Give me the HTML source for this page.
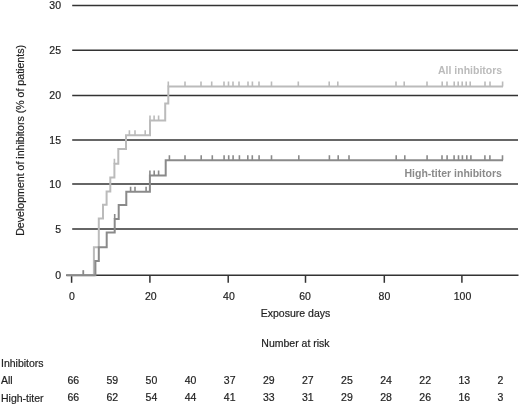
<!DOCTYPE html><html><head><meta charset="utf-8"><style>html,body{margin:0;padding:0;background:#fff;}svg{display:block;filter:grayscale(1)} text{stroke-width:0.2px;paint-order:stroke}</style></head><body>
<svg width="520" height="405" viewBox="0 0 520 405" font-family="Liberation Sans, sans-serif">
<rect width="520" height="405" fill="#fff"/>
<line x1="72.2" y1="5.4" x2="518" y2="5.4" stroke="#333" stroke-width="1.5"/>
<line x1="72.2" y1="50.3" x2="518" y2="50.3" stroke="#333" stroke-width="1.5"/>
<line x1="72.2" y1="95.4" x2="518" y2="95.4" stroke="#333" stroke-width="1.5"/>
<line x1="72.2" y1="139.9" x2="518" y2="139.9" stroke="#333" stroke-width="1.5"/>
<line x1="72.2" y1="184.0" x2="518" y2="184.0" stroke="#333" stroke-width="1.5"/>
<line x1="72.2" y1="229.0" x2="518" y2="229.0" stroke="#333" stroke-width="1.5"/>
<line x1="66" y1="275.3" x2="518.5" y2="275.3" stroke="#333" stroke-width="1.5"/>
<line x1="71.6" y1="275.3" x2="71.6" y2="282.8" stroke="#333" stroke-width="1.5"/>
<line x1="149.9" y1="275.3" x2="149.9" y2="282.8" stroke="#333" stroke-width="1.5"/>
<line x1="228.2" y1="275.3" x2="228.2" y2="282.8" stroke="#333" stroke-width="1.5"/>
<line x1="305.5" y1="275.3" x2="305.5" y2="282.8" stroke="#333" stroke-width="1.5"/>
<line x1="384.3" y1="275.3" x2="384.3" y2="282.8" stroke="#333" stroke-width="1.5"/>
<line x1="461.9" y1="275.3" x2="461.9" y2="282.8" stroke="#333" stroke-width="1.5"/>
<path d="M66.5 275.3 H93.9 V247.2 H98.8 V218.6 H103 V204.75 H106.6 V191.4 H110.3 V177.6 H114.4 V163.8 H118.3 V149 H126 V135.3 H150 V120.4 H165.2 V103.6 H168.3 V86.5 H503" fill="none" stroke="#bbbbbb" stroke-width="2"/>
<path d="M83.3 275.3v-5M114.4 163.8v-5M129.4 135.3v-5M135 135.3v-5M145.2 135.3v-5M150 120.4v-5M154.1 120.4v-5M158.6 120.4v-5M168.3 86.5v-5M185 86.5v-5M201 86.5v-5M211.7 86.5v-5M224 86.5v-5M228.5 86.5v-5M233 86.5v-5M239 86.5v-5M248 86.5v-5M252.4 86.5v-5M259 86.5v-5M271.5 86.5v-5M298.3 86.5v-5M329.2 86.5v-5M337.8 86.5v-5M396 86.5v-5M404.2 86.5v-5M427 86.5v-5M442.2 86.5v-5M447 86.5v-5M454.2 86.5v-5M458.2 86.5v-5M462.2 86.5v-5M466.2 86.5v-5M470.2 86.5v-5M485 86.5v-5M490 86.5v-5M502.6 86.5v-5" fill="none" stroke="#bbbbbb" stroke-width="1.6"/>
<path d="M66.5 275.3 H95.4 V261 H98.8 V247.2 H106.7 V232.4 H114.7 V218.9 H118.7 V205.1 H126.3 V191.8 H149.9 V175.4 H165.7 V160.3 H503" fill="none" stroke="#8a8a8a" stroke-width="2"/>
<path d="M83.3 275.3v-5M114.7 218.9v-5M130.6 191.8v-5M135 191.8v-5M146.1 191.8v-5M149.9 175.4v-5M154.2 175.4v-5M158.6 175.4v-5M169.4 160.3v-5M185 160.3v-5M201.2 160.3v-5M212.3 160.3v-5M224.1 160.3v-5M228.7 160.3v-5M233.1 160.3v-5M239.4 160.3v-5M247.8 160.3v-5M252.3 160.3v-5M259.1 160.3v-5M271.5 160.3v-5M298.8 160.3v-5M329.4 160.3v-5M338.2 160.3v-5M349 160.3v-5M396.2 160.3v-5M404.8 160.3v-5M427.1 160.3v-5M442 160.3v-5M447.1 160.3v-5M454.1 160.3v-5M458.5 160.3v-5M462.4 160.3v-5M466.8 160.3v-5M470.9 160.3v-5M484.9 160.3v-5M489.9 160.3v-5M502.5 160.3v-5" fill="none" stroke="#8a8a8a" stroke-width="1.6"/>
<g font-size="10.5" fill="#1e1e1e" stroke="#1e1e1e" text-anchor="end">
<text transform="translate(61.0 9.10)">30</text>
<text transform="translate(61.0 54.00)">25</text>
<text transform="translate(61.0 99.10)">20</text>
<text transform="translate(61.0 143.60)">15</text>
<text transform="translate(61.0 187.70)">10</text>
<text transform="translate(61.0 232.70)">5</text>
<text transform="translate(61.0 279.00)">0</text>
</g>
<g font-size="10.5" fill="#1e1e1e" stroke="#1e1e1e" text-anchor="middle">
<text transform="translate(72.00 299.5)">0</text>
<text transform="translate(150.75 299.5)">20</text>
<text transform="translate(228.95 299.5)">40</text>
<text transform="translate(305.10 299.5)">60</text>
<text transform="translate(384.40 299.5)">80</text>
<text transform="translate(462.50 299.5)">100</text>
</g>
<text x="23.9" y="140.4" font-size="10.6" fill="#1e1e1e" stroke="#1e1e1e" text-anchor="middle" transform="rotate(-90 23.9 140.4)">Development of inhibitors (% of patients)</text>
<text x="295.5" y="316.6" font-size="10.5" fill="#1e1e1e" stroke="#1e1e1e" text-anchor="middle">Exposure days</text>
<text x="295.5" y="347.2" font-size="10.5" fill="#1e1e1e" stroke="#1e1e1e" text-anchor="middle">Number at risk</text>
<text x="502.2" y="74.0" font-size="10.5" font-weight="bold" fill="#bbbbbb" text-anchor="end">All inhibitors</text>
<text x="501.9" y="176.7" font-size="10.5" font-weight="bold" fill="#8a8a8a" text-anchor="end">High-titer inhibitors</text>
<g font-size="10.5" fill="#1e1e1e" stroke="#1e1e1e">
<text x="1" y="366.7">Inhibitors</text>
<text x="1" y="384">All</text>
<text x="1" y="401.5">High-titer</text>
<text transform="translate(67.40 384)">66</text>
<text transform="translate(67.40 401.4)">66</text>
<text transform="translate(106.50 384)">59</text>
<text transform="translate(106.50 401.4)">62</text>
<text transform="translate(145.60 384)">50</text>
<text transform="translate(145.60 401.4)">54</text>
<text transform="translate(184.70 384)">40</text>
<text transform="translate(184.70 401.4)">44</text>
<text transform="translate(223.80 384)">37</text>
<text transform="translate(223.80 401.4)">41</text>
<text transform="translate(262.90 384)">29</text>
<text transform="translate(262.90 401.4)">33</text>
<text transform="translate(302.00 384)">27</text>
<text transform="translate(302.00 401.4)">31</text>
<text transform="translate(341.10 384)">25</text>
<text transform="translate(341.10 401.4)">29</text>
<text transform="translate(380.20 384)">24</text>
<text transform="translate(380.20 401.4)">28</text>
<text transform="translate(419.30 384)">22</text>
<text transform="translate(419.30 401.4)">26</text>
<text transform="translate(458.40 384)">13</text>
<text transform="translate(458.40 401.4)">16</text>
<text transform="translate(497.50 384)">2</text>
<text transform="translate(497.50 401.4)">3</text>
</g>
</svg></body></html>
